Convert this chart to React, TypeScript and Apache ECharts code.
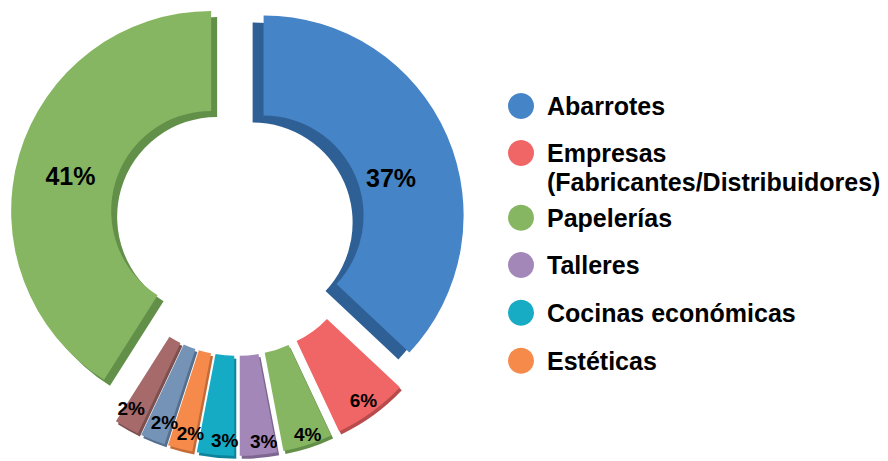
import React, { useEffect, useRef } from 'react';
import * as echarts from 'echarts';

// ---- Data ----
const categories = [
  'Abarrotes',
  'Empresas (Fabricantes/Distribuidores)',
  'Papelerías',
  'Talleres',
  'Cocinas económicas',
  'Estéticas',
  'Otros A',
  'Otros B',
  'Otros C',
];
const values = [37, 6, 4, 3, 3, 2, 2, 2, 41];
const legendCount = 6;

// ---- Styles / layout ----
const faceColors = ['#4584c6', '#f06565', '#87b662', '#a387b8', '#17abc4', '#f58a4b', '#7592b7', '#a66b6b', '#87b662'];
const sideColors = ['#2f6196', '#b84c4c', '#62904a', '#7d6690', '#10849a', '#c26b38', '#55708f', '#7d4f4f', '#62904a'];
const sideOffsets: [number, number][] = [[-11, 7], [2, 3], [2, 3], [2, 3], [2, 3], [2, 3], [2, 3], [2, 3], [6, 6]];
// label placement: [radius from slice centre, angular shift in degrees]
const labelPlacement: [number, number][] = [[130, 7], [183, 0], [187, -1], [184, -2], [182, -2.5], [180, -2], [177, -1.5], [178, 1.7], [142, -2.3]];
const legendIconCentres = [106, 153, 217.7, 265, 312.7, 360.7];

const FONT = "'Liberation Sans', Arial, Helvetica, sans-serif";
const CENTER_MAIN: [number, number] = [237, 227];
const CENTER_RAISED: [number, number] = [239, 219];
const RAISED_INDEX = 8;
const R0 = 100;
const R1 = 200;
const EXPLODE = 29;
const HIDDEN = 'rgba(0,0,0,0)';

export default function App() {
  const ref = useRef<HTMLDivElement>(null);
  useEffect(() => {
    if (!ref.current) return;
    const chart = echarts.init(ref.current, undefined, { renderer: 'svg' });
    const total = values.reduce((a, b) => a + b, 0);
    const mids: number[] = [];
    let cum = 0;
    values.forEach((v) => {
      mids.push(((cum + v / 2) / total) * 360);
      cum += v;
    });
    const defR = (R0 + R1) / 2;

    const legends = categories.slice(0, legendCount).map((name, i) => {
      const twoLine = name.indexOf(' (') >= 0;
      const lh = 29;
      const boxH = twoLine ? lh * 3 : lh;
      return {
        data: [name],
        orient: 'vertical',
        left: 508,
        top: legendIconCentres[i] - boxH / 2,
        padding: 0,
        icon: 'circle',
        itemWidth: 26,
        itemHeight: 26,
        selectedMode: false,
        formatter: (n: string) => (n.indexOf(' (') >= 0 ? ' \n' + n.replace(' (', '\n(') : n),
        itemStyle: { shadowBlur: 0, shadowOffsetX: 0, shadowOffsetY: 0, shadowColor: HIDDEN, borderWidth: 0 },
        textStyle: {
          fontFamily: FONT,
          fontWeight: 'bold',
          fontSize: 25,
          color: '#000',
          lineHeight: lh,
          padding: [0, 0, 0, 8],
        },
      };
    });

    const makeSeries = (center: [number, number], visible: (i: number) => boolean) => ({
      type: 'pie',
      center,
      radius: [R0, R1],
      startAngle: 90,
      clockwise: true,
      selectedMode: 'multiple',
      selectedOffset: EXPLODE,
      avoidLabelOverlap: false,
      emphasis: { disabled: true },
      select: { itemStyle: { borderWidth: 0 } },
      labelLine: { show: false },
      label: {
        show: true,
        position: 'inside',
        color: '#000',
        fontFamily: FONT,
        fontWeight: 'bold',
        formatter: (p: any) => p.value + '%',
      },
      labelLayout: (params: any) => {
        const i = params.dataIndex;
        const m = (mids[i] * Math.PI) / 180;
        const [rl, sh] = labelPlacement[i];
        const a = ((mids[i] + sh) * Math.PI) / 180;
        return {
          dx: rl * Math.sin(a) - defR * Math.sin(m),
          dy: -rl * Math.cos(a) + defR * Math.cos(m),
        };
      },
      data: values.map((v, i) => {
        const show = visible(i);
        return {
          name: categories[i],
          value: v,
          selected: true,
          itemStyle: show
            ? {
                color: faceColors[i],
                borderWidth: 0,
                shadowColor: sideColors[i],
                shadowBlur: 0,
                shadowOffsetX: sideOffsets[i][0],
                shadowOffsetY: sideOffsets[i][1],
              }
            : { color: HIDDEN, borderWidth: 0, shadowColor: HIDDEN, shadowOffsetX: 0, shadowOffsetY: 0 },
          label: { show, fontSize: v >= 10 ? 25 : 19 },
        };
      }),
    });

    chart.setOption({
      animation: false,
      backgroundColor: '#ffffff',
      legend: legends,
      series: [
        makeSeries(CENTER_MAIN, (i) => i !== RAISED_INDEX),
        makeSeries(CENTER_RAISED, (i) => i === RAISED_INDEX),
      ],
    });
    return () => chart.dispose();
  }, []);
  return <div ref={ref} style={{ position: 'fixed', left: 0, top: 0, width: 888, height: 461 }} />;
}
